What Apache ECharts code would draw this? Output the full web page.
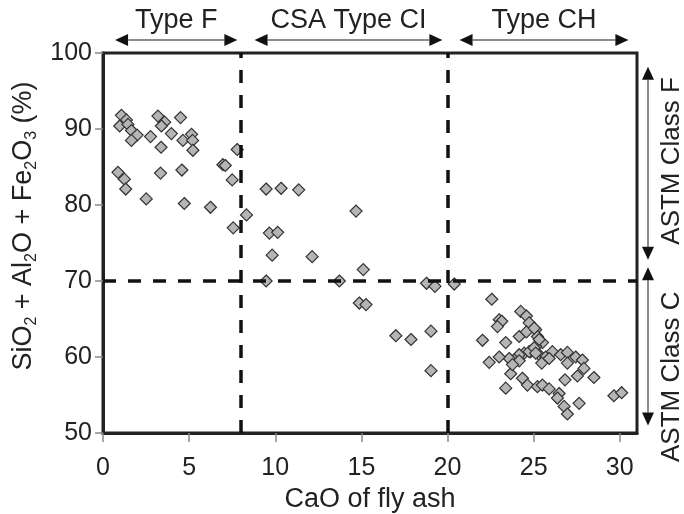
<!DOCTYPE html>
<html>
<head>
<meta charset="utf-8">
<script src="https://cdn.jsdelivr.net/npm/echarts@6/dist/echarts.min.js"></script>
<style>
  html, body { margin: 0; padding: 0; background: #fff; }
  #container { width: 684px; height: 514px; }
</style>
</head>
<body>
<div id="container"></div>
<script>
// CaO content (x) and SiO2+Al2O3+Fe2O3 (y) of each fly ash
const caO = [
  1.07, 1.36, 0.97, 1.45, 1.65, 1.98, 1.65, 2.76, 3.19, 3.58, 3.39, 4.5, 3.97, 3.37, 4.64, 5.14,
  5.2, 5.22, 7.79, 0.87, 1.24, 1.32, 3.34, 4.58, 2.51, 4.72, 6.24, 6.96, 7.1, 7.5, 8.33, 7.56,
  9.47, 10.34, 11.36, 9.66, 10.14, 9.82, 12.14, 14.69, 15.11, 9.47, 13.72, 14.88, 15.27, 17.0,
  17.88, 19.04, 19.04, 18.78, 19.27, 20.39,
  22.57, 24.25, 24.58, 23.0, 23.15, 22.9, 24.74, 24.16, 24.58, 25.12, 22.03, 23.38, 25.22, 25.51,
  25.12, 24.83, 24.45, 24.16, 23.87, 23.58, 23.0, 22.42, 24.16, 25.32, 25.7, 26.09, 25.47, 26.57,
  26.96, 26.96, 27.44, 27.83, 27.92, 27.54, 28.5, 26.82, 23.67, 24.35, 24.64, 25.22, 25.51, 25.9,
  23.38, 26.48, 26.38, 27.64, 26.77, 26.96, 29.66, 30.11,
  25.03, 25.32, 23.77, 24.74, 25.03, 25.12, 25.9
];
const oxides = [
  91.8, 91.2, 90.4, 90.6, 89.8, 89.2, 88.5, 89.0, 91.7, 90.9, 90.4, 91.5, 89.4, 87.6, 88.5, 89.3,
  88.5, 87.2, 87.3, 84.3, 83.4, 82.1, 84.2, 84.6, 80.8, 80.2, 79.7, 85.3, 85.2, 83.3, 78.7, 77.0,
  82.1, 82.2, 82.0, 76.3, 76.4, 73.4, 73.2, 79.2, 71.5, 70.0, 70.0, 67.1, 66.9, 62.8,
  62.3, 63.4, 58.2, 69.7, 69.3, 69.6,
  67.6, 66.0, 65.4, 64.9, 64.7, 64.0, 64.5, 62.7, 63.3, 63.6, 62.2, 61.9, 62.7, 61.9,
  61.4, 60.7, 60.5, 60.3, 59.6, 59.8, 60.0, 59.3, 59.5, 60.3, 60.0, 60.7, 59.2, 60.3,
  60.6, 59.2, 60.0, 59.6, 58.5, 57.5, 57.3, 57.0, 57.8, 57.2, 56.3, 56.1, 56.3, 55.8,
  55.9, 55.2, 54.6, 53.9, 53.5, 52.5, 54.9, 55.3,
  63.8, 62.3, 59.0, 60.7, 61.2, 60.5, 59.8
];

// classification limits and annotation ranges (data units)
const limitX = [8, 20];
const limitY = 70;
const typeNames = ['Type F', 'CSA Type CI', 'Type CH'];
const typeSpans = [[0.7, 7.8], [8.8, 19.7], [20.7, 30.5]];
const classNames = ['ASTM Class F', 'ASTM Class C'];
const classSpans = [[98.2, 72.8], [71.8, 51.0]];
const classTextAt = [85.8, 57.4];

const font = 'Liberation Sans, Arial, sans-serif';
const points = caO.map((x, i) => [x, oxides[i]]);

const chart = echarts.init(document.getElementById('container'), null, { renderer: 'canvas' });

const option = {
  animation: false,
  grid: {
    left: 103, right: 47, top: 53, bottom: 81,
    outerBoundsMode: 'none',
    show: true, borderColor: '#222', borderWidth: 3
  },
  xAxis: {
    type: 'value', min: 0, max: 31, interval: 5,
    axisLine: { show: true, lineStyle: { color: '#222', width: 3 } },
    axisTick: { show: true, length: 9, lineStyle: { color: '#888', width: 1.5 } },
    axisLabel: { fontSize: 25, color: '#222', margin: 23, fontFamily: font, showMaxLabel: false },
    splitLine: { show: false },
    name: 'CaO of fly ash', nameLocation: 'middle', nameGap: 53,
    nameTextStyle: { fontSize: 27, color: '#222', fontFamily: font }
  },
  yAxis: {
    type: 'value', min: 50, max: 100, interval: 10,
    axisLine: { show: true, lineStyle: { color: '#222', width: 3 } },
    axisTick: { show: true, length: 8, lineStyle: { color: '#888', width: 1.5 } },
    axisLabel: { fontSize: 25, color: '#222', margin: 11, fontFamily: font },
    splitLine: { show: false },
    name: '{n|SiO}{s|2}{n| + Al}{s|2}{n|O + Fe}{s|2}{n|O}{s|3}{n| (%)}',
    nameLocation: 'middle', nameGap: 56,
    nameTextStyle: {
      color: '#222', fontFamily: font,
      padding: [0, 0, 0, 34],
      rich: {
        n: { fontSize: 27, lineHeight: 32, color: '#222', fontFamily: font },
        s: { fontSize: 16, lineHeight: 32, verticalAlign: 'bottom', color: '#222', fontFamily: font }
      }
    }
  },
  series: [{
    type: 'scatter',
    data: points,
    symbol: 'diamond',
    symbolSize: 12,
    itemStyle: { color: '#b5b5b5', borderColor: '#333', borderWidth: 1.2, opacity: 1 },
    z: 3,
    markLine: {
      silent: true,
      symbol: ['none', 'none'],
      label: { show: false },
      lineStyle: { color: '#111', width: 3.5, type: [13, 12] },
      data: limitX.map(v => ({ xAxis: v })).concat([{ yAxis: limitY }])
    }
  }]
};
chart.setOption(option);

// annotation arrows placed through the axes
const px = (x, y) => chart.convertToPixel({ gridIndex: 0 }, [x, y]);
const head = 13, half = 6;
const graphics = [];

typeSpans.forEach((s, i) => {
  const a = px(s[0], 100), b = px(s[1], 100);
  const y = a[1] - 13;
  graphics.push(
    { type: 'line', shape: { x1: a[0] + head, y1: y, x2: b[0] - head, y2: y }, style: { stroke: '#666', lineWidth: 1.5 } },
    { type: 'polygon', shape: { points: [[a[0], y], [a[0] + head, y - half], [a[0] + head, y + half]] }, style: { fill: '#111' } },
    { type: 'polygon', shape: { points: [[b[0], y], [b[0] - head, y - half], [b[0] - head, y + half]] }, style: { fill: '#111' } },
    { type: 'text', x: (a[0] + b[0]) / 2, y: y - 19,
      style: { text: typeNames[i], align: 'center', verticalAlign: 'middle', fontSize: 27, fill: '#222', fontFamily: font } }
  );
});

const rightX = px(31, 50)[0];
classSpans.forEach((s, i) => {
  const x = rightX + 11;
  const t = px(0, s[0])[1], b = px(0, s[1])[1];
  graphics.push(
    { type: 'line', shape: { x1: x, y1: t + head, x2: x, y2: b - head }, style: { stroke: '#666', lineWidth: 1.5 } },
    { type: 'polygon', shape: { points: [[x, t], [x - half, t + head], [x + half, t + head]] }, style: { fill: '#111' } },
    { type: 'polygon', shape: { points: [[x, b], [x - half, b - head], [x + half, b - head]] }, style: { fill: '#111' } },
    { type: 'text', x: rightX + 35, y: px(0, classTextAt[i])[1], rotation: Math.PI / 2,
      style: { text: classNames[i], align: 'center', verticalAlign: 'middle', fontSize: 26, fill: '#222', fontFamily: font } }
  );
});

chart.setOption({ graphic: graphics });
</script>
</body>
</html>
